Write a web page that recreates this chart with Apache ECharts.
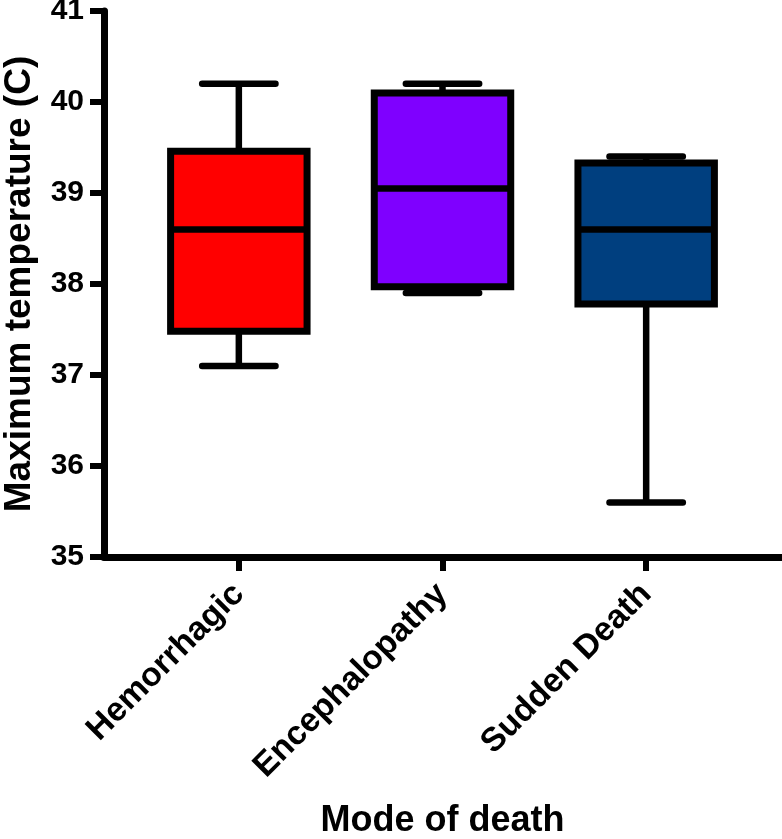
<!DOCTYPE html>
<html>
<head>
<meta charset="utf-8">
<script src="https://cdn.jsdelivr.net/npm/echarts@6/dist/echarts.min.js"></script>
<style>html,body{margin:0;padding:0;background:#fff}#c{width:782px;height:839px}</style>
</head>
<body>
<div id="c"></div>
<script>
const categories = ['Hemorrhagic', 'Encephalopathy', 'Sudden Death'];
const whiskerLow = [37.1, 37.9, 35.6];
const q1 = [37.48, 37.97, 37.78];
const median = [38.6, 39.05, 38.6];
const q3 = [39.46, 40.1, 39.33];
const whiskerHigh = [40.2, 40.2, 39.4];
const boxColors = ['#ff0000', '#7f00ff', '#003f7f'];
const yTicks = [35, 36, 37, 38, 39, 40, 41];

const FONT = '"Liberation Sans", Arial, sans-serif';
const data = categories.map((c, i) => [i, whiskerLow[i], q1[i], median[i], q3[i], whiskerHigh[i]]);

const chart = echarts.init(document.getElementById('c'), null, {renderer: 'canvas'});
chart.setOption({
  backgroundColor: '#ffffff',
  animation: false,
  grid: [
    {left: 137, right: 34, top: 11, bottom: 282, containLabel: false, outerBoundsMode: 'none'},
    {left: 104, right: 0, top: 11, bottom: 282, containLabel: false, outerBoundsMode: 'none'}
  ],
  xAxis: [
    {
      type: 'category', gridIndex: 0, data: categories,
      axisLine: {show: false},
      axisTick: {show: true, alignWithLabel: true, length: 14, lineStyle: {color: '#000', width: 6}},
      axisLabel: {rotate: 45, margin: 32, color: '#000', fontFamily: FONT, fontWeight: 'bold', fontSize: 33.5},
      name: 'Mode of death', nameLocation: 'middle', nameGap: 246,
      nameTextStyle: {color: '#000', fontFamily: FONT, fontWeight: 'bold', fontSize: 36}
    },
    {
      type: 'value', gridIndex: 1, min: 0, max: 1,
      axisLine: {show: true, lineStyle: {color: '#000', width: 7}},
      axisTick: {show: false}, axisLabel: {show: false}, splitLine: {show: false}
    }
  ],
  yAxis: [
    {
      type: 'value', gridIndex: 0, min: yTicks[0], max: yTicks[yTicks.length - 1], interval: 1,
      offset: 33,
      axisLine: {show: true, lineStyle: {color: '#000', width: 7}},
      axisTick: {show: true, length: 14, lineStyle: {color: '#000', width: 6}},
      axisLabel: {margin: 20, color: '#000', fontFamily: FONT, fontWeight: 'bold', fontSize: 30},
      splitLine: {show: false},
      name: 'Maximum temperature (C)', nameLocation: 'middle', nameGap: 66,
      nameTextStyle: {color: '#000', fontFamily: FONT, fontWeight: 'bold', fontSize: 37}
    },
    {
      type: 'value', gridIndex: 1, show: false
    }
  ],
  series: [{
    type: 'custom',
    xAxisIndex: 0, yAxisIndex: 0,
    data: data,
    encode: {x: 0, y: [1, 2, 3, 4, 5]},
    renderItem: function (params, api) {
      const idx = api.value(0);
      const band = api.size([1, 0])[0];
      const boxHalf = band * 0.335;
      const capHalf = band * 0.18;
      const pLow = api.coord([idx, api.value(1)]);
      const pQ1 = api.coord([idx, api.value(2)]);
      const pMed = api.coord([idx, api.value(3)]);
      const pQ3 = api.coord([idx, api.value(4)]);
      const pHigh = api.coord([idx, api.value(5)]);
      const cx = pMed[0];
      const lw = 6.5;
      const stroke = {stroke: '#000', lineWidth: lw};
      return {
        type: 'group',
        children: [
          {type: 'line', shape: {x1: cx, y1: pHigh[1], x2: cx, y2: pQ3[1]}, style: stroke},
          {type: 'line', shape: {x1: cx, y1: pQ1[1], x2: cx, y2: pLow[1]}, style: stroke},
          {type: 'line', shape: {x1: cx - capHalf, y1: pHigh[1], x2: cx + capHalf, y2: pHigh[1]}, style: {stroke: '#000', lineWidth: lw, lineCap: 'round'}},
          {type: 'line', shape: {x1: cx - capHalf, y1: pLow[1], x2: cx + capHalf, y2: pLow[1]}, style: {stroke: '#000', lineWidth: lw, lineCap: 'round'}},
          {type: 'rect', shape: {x: cx - boxHalf, y: pQ3[1], width: boxHalf * 2, height: pQ1[1] - pQ3[1]},
            style: {fill: boxColors[idx], stroke: '#000', lineWidth: 7}},
          {type: 'line', shape: {x1: cx - boxHalf, y1: pMed[1], x2: cx + boxHalf, y2: pMed[1]}, style: stroke}
        ]
      };
    }
  }]
});
</script>
</body>
</html>
